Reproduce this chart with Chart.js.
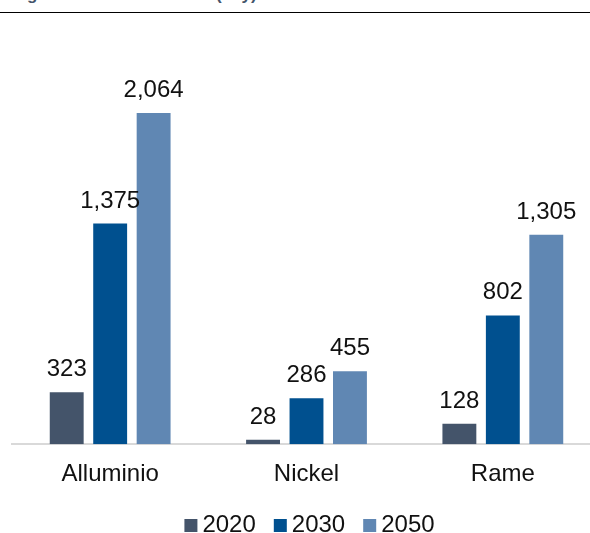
<!DOCTYPE html>
<html>
<head>
<meta charset="utf-8">
<script src="https://cdn.jsdelivr.net/npm/chart.js@4.4.0/dist/chart.umd.min.js"></script>
<style>
  html, body { margin: 0; padding: 0; background: #fff; overflow: hidden; width: 590px; height: 533px; }
  #title { position: absolute; left: 12px; top: -16px; font: bold 17px "Liberation Sans", Arial, sans-serif; color: #44546a; white-space: nowrap; line-height: 22px; }
  #rule { position: absolute; left: 0; top: 12px; width: 590px; height: 0; border-top: 1px solid #000; }
  #c { position: absolute; left: 0; top: 14px; }
</style>
</head>
<body>
<div id="title">Fig. 4 – Domanda metalli (kt/y)</div>
<div id="rule"></div>
<canvas id="c" width="620" height="519"></canvas>
<script>
const categories = ["Alluminio", "Nickel", "Rame"];
const seriesNames = ["2020", "2030", "2050"];
const values2020 = [323, 28, 128];
const values2030 = [1375, 286, 802];
const values2050 = [2064, 455, 1305];
const colors = ["#44546a", "#00508f", "#6087b3"];

const FONT = '"Liberation Sans", Arial, sans-serif';

const valueLabels = {
  id: 'valueLabels',
  afterDatasetsDraw(chart) {
    const ctx = chart.ctx;
    ctx.save();
    ctx.font = '24px ' + FONT;
    ctx.fillStyle = '#111';
    ctx.textAlign = 'center';
    ctx.textBaseline = 'alphabetic';
    chart.data.datasets.forEach((ds, i) => {
      const meta = chart.getDatasetMeta(i);
      meta.data.forEach((bar, j) => {
        ctx.fillText(ds.data[j].toLocaleString('en-US'), bar.x, bar.y - 16);
      });
    });
    ctx.restore();
  }
};

// Legend drawn from the chart's own datasets
const bottomLegend = {
  id: 'bottomLegend',
  afterDraw(chart) {
    const ctx = chart.ctx;
    ctx.save();
    ctx.font = '24px ' + FONT;
    const box = 13, gapText = 5, gapItem = 18;
    const items = chart.data.datasets.map(ds => ({ text: ds.label, color: ds.backgroundColor, w: ctx.measureText(ds.label).width }));
    const total = items.reduce((s, it) => s + box + gapText + it.w, 0) + gapItem * (items.length - 1);
    const center = (chart.chartArea.left + chart.chartArea.right) / 2 + 3;
    let x = center - total / 2;
    const baseY = chart.height - 1;
    items.forEach(it => {
      ctx.fillStyle = it.color;
      ctx.fillRect(x, baseY - 13, box, box);
      x += box + gapText;
      ctx.fillStyle = '#111';
      ctx.textAlign = 'left';
      ctx.textBaseline = 'alphabetic';
      ctx.fillText(it.text, x, baseY);
      x += it.w + gapItem;
    });
    ctx.restore();
  }
};

new Chart(document.getElementById('c'), {
  type: 'bar',
  data: {
    labels: categories,
    datasets: [
      { label: seriesNames[0], data: values2020, backgroundColor: colors[0] },
      { label: seriesNames[1], data: values2030, backgroundColor: colors[1] },
      { label: seriesNames[2], data: values2050, backgroundColor: colors[2] }
    ]
  },
  options: {
    responsive: false,
    animation: false,
    layout: { padding: { left: 12, right: 19, top: 29, bottom: 36 } },
    datasets: { bar: { barPercentage: 0.78, categoryPercentage: 0.664 } },
    scales: {
      x: {
        grid: { display: false },
        border: { color: '#d9d9d9', width: 2 },
        ticks: { color: '#111', font: { family: FONT, size: 24 }, padding: 8 }
      },
      y: { display: false, min: 0, max: 2500 }
    },
    plugins: {
      legend: { display: false },
      tooltip: { enabled: false }
    }
  },
  plugins: [valueLabels, bottomLegend]
});
</script>
</body>
</html>
